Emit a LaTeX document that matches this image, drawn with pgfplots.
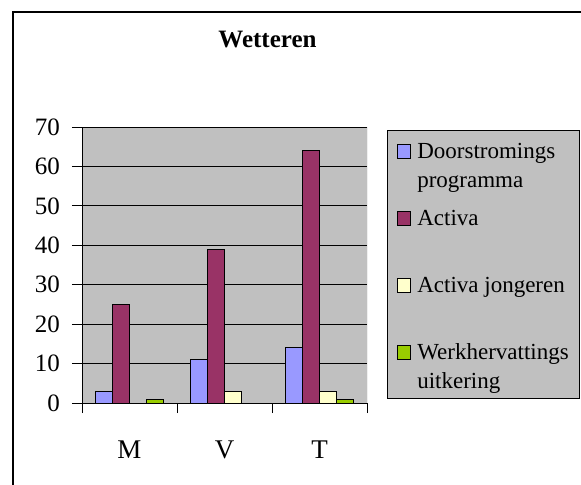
\documentclass[border=0pt]{standalone}
\usepackage{fontspec}
\setmainfont{Liberation Serif}
\usepackage{pgfplots}
\pgfplotsset{compat=1.18}
\definecolor{cblue}{HTML}{9999FF}
\definecolor{cpurple}{HTML}{993366}
\definecolor{cyellow}{HTML}{FFFFCC}
\definecolor{cgreen}{HTML}{99CC00}
\definecolor{cgray}{HTML}{C0C0C0}
\newcommand{\lentryA}[1]{\vtop to 67bp{\hbox to 153bp{\rule{0pt}{28bp}#1\hfil}\vfil}}
\newcommand{\lentryB}[2]{\vtop to 67bp{\baselineskip=29bp\lineskiplimit=-100bp\hbox to 153bp{\rule{0pt}{28bp}#1\hfil}\hbox{#2}\vfil}}
\pgfplotsset{sqlegend/.style={legend image code/.code={\draw[##1,draw=black,line width=0.8bp] (0bp,0.3bp) rectangle (13bp,14bp);}}}
\begin{document}
\begin{tikzpicture}
\useasboundingbox (0,0) rectangle (581bp,485bp);
\draw[line width=1.2bp] (13bp,-2bp) -- (13bp,473bp) -- (583bp,473bp);
\node[font=\fontsize{25bp}{30bp}\selectfont\bfseries, anchor=base] at (267.5bp,437bp) {Wetteren};
\begin{axis}[
  at={(82bp,82bp)}, anchor=south west, scale only axis,
  width=285bp, height=276bp,
  ybar=0pt, bar width=17bp,
  xmin=-0.5, xmax=2.5, ymin=0, ymax=70,
  axis lines*=left,
  axis line style={line width=0.8bp, black},
  axis background/.style={fill=cgray},
  ytick={0,10,...,70},
  ymajorgrids, major grid style={black, line width=0.8bp},
  tick align=outside,
  major tick length=10bp,
  tick style={black, line width=0.8bp},
  xtick={-0.5,0.5,1.5,2.5}, xticklabels={},
  extra x ticks={0,1,2}, extra x tick labels={M,V,T},
  extra x tick style={major tick length=0pt},
  /pgf/number format/assume math mode=true,
  yticklabel style={font=\fontsize{25bp}{30bp}\selectfont, inner sep=0pt, anchor=east, xshift=-12bp},
  xticklabel style={font=\fontsize{27bp}{32bp}\selectfont, inner sep=0pt, anchor=base, yshift=-55bp},
  legend style={at={(1,1)}, anchor=north west, xshift=20bp, yshift=-3bp,
    fill=cgray, draw=black, line width=1bp,
    inner xsep=9bp, inner ysep=0pt, column sep=7bp, row sep=0pt,
    cells={anchor=base west},
    nodes={inner sep=0pt, text depth=, text height=},
    font=\fontsize{23bp}{29bp}\selectfont},
]
\addplot[fill=cblue, draw=black, line width=0.8bp, sqlegend] coordinates {(0,3) (1,11) (2,14)};
\addplot[fill=cpurple, draw=black, line width=0.8bp, sqlegend] coordinates {(0,25) (1,39) (2,64)};
\addplot[fill=cyellow, draw=black, line width=0.8bp, sqlegend] coordinates {(0,0) (1,3) (2,3)};
\addplot[fill=cgreen, draw=black, line width=0.8bp, sqlegend] coordinates {(0,1) (1,0) (2,1)};
\legend{\lentryB{Doorstromings}{programma},\lentryA{Activa},\lentryA{Activa jongeren},\lentryB{Werkhervattings}{uitkering}}
\draw[gray, line width=0.8bp] (rel axis cs:1,0) -- (rel axis cs:1,1);
\end{axis}
\end{tikzpicture}
\end{document}
